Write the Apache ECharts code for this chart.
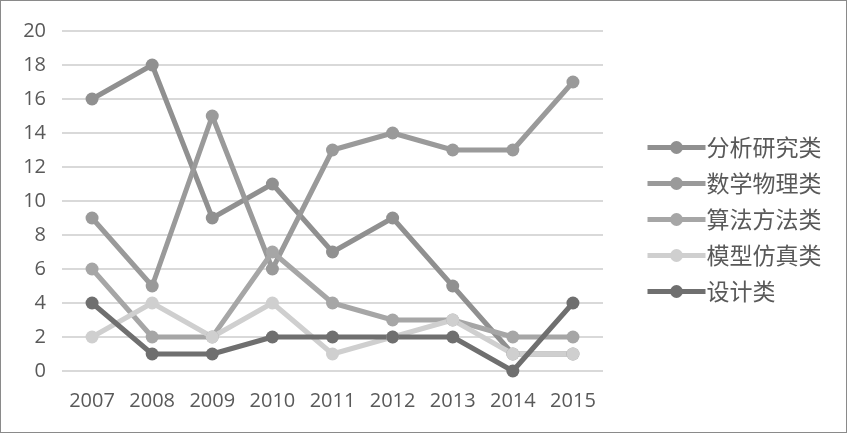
<!DOCTYPE html>
<html><head><meta charset="utf-8">
<script src="https://cdn.jsdelivr.net/npm/echarts@6/dist/echarts.min.js"></script>
<style>
html,body{margin:0;padding:0;background:#fff;}
#c{width:845px;height:431px;border:1px solid #8a8a8a;}
</style></head>
<body><div id="c"></div>
<script>
const years = ['2007','2008','2009','2010','2011','2012','2013','2014','2015'];
const seriesNames = ['分析研究类','数学物理类','算法方法类','模型仿真类','设计类'];
const fenxi   = [16, 18, 9, 11, 7, 9, 5, 1, 1];
const shuxue  = [9, 5, 15, 6, 13, 14, 13, 13, 17];
const suanfa  = [6, 2, 2, 7, 4, 3, 3, 2, 2];
const moxing  = [2, 4, 2, 4, 1, 2, 3, 1, 1];
const sheji   = [4, 1, 1, 2, 2, 2, 2, 0, 4];
const values = [fenxi, shuxue, suanfa, moxing, sheji];
const colors = ['#909090', '#9a9a9a', '#a6a6a6', '#cfcfcf', '#6f6f6f'];

const chart = echarts.init(document.getElementById('c'));
chart.setOption({
  animation: false,
  backgroundColor: '#fff',
  textStyle: {fontFamily: '"Noto Sans CJK SC", "Open Sans", sans-serif'},
  grid: {left: 61, right: 243, top: 30, bottom: 61},
  legend: {
    orient: 'vertical', left: 639, top: 130, itemGap: 13,
    itemWidth: 58, itemHeight: 16,
    lineStyle: {width: 5},
    textStyle: {fontSize: 23, color: '#595959', fontFamily: '"Noto Sans CJK SC", sans-serif', padding: [0, 0, 0, -4]},
    data: seriesNames
  },
  xAxis: {
    type: 'category', data: years, boundaryGap: true,
    axisLine: {show: false}, axisTick: {show: false},
    axisLabel: {fontSize: 20, color: '#595959', margin: 20, fontFamily: '"Open Sans", sans-serif'}
  },
  yAxis: {
    type: 'value', min: 0, max: 20, interval: 2,
    axisLine: {show: false}, axisTick: {show: false},
    axisLabel: {fontSize: 20, color: '#595959', margin: 16, fontFamily: '"Open Sans", sans-serif'},
    splitLine: {lineStyle: {color: '#d9d9d9', width: 2}}
  },
  series: seriesNames.map((n, i) => ({
    name: n, type: 'line', data: values[i],
    symbol: 'circle', symbolSize: 13,
    lineStyle: {width: 5, color: colors[i]},
    itemStyle: {color: colors[i]}
  }))
});
</script></body></html>
